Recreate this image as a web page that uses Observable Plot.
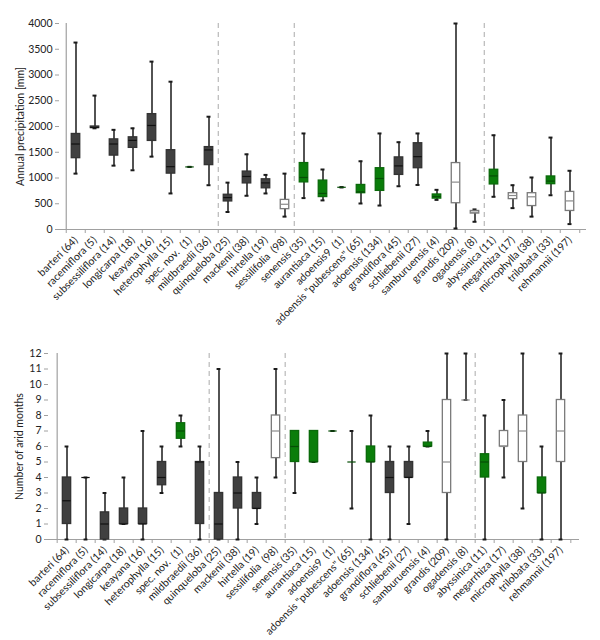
<!DOCTYPE html>
<html>
<head>
<meta charset="utf-8">
<script src="https://cdn.jsdelivr.net/npm/d3@7"></script>
<script src="https://cdn.jsdelivr.net/npm/@observablehq/plot@0.6"></script>
<style>
  body { margin: 0; background: white; }
  #chart svg { display: block; }
</style>
</head>
<body>
<div id="chart"></div>
<script>
// ---------- data ----------
const species = ["barteri (64)", "racemiflora (5)", "subsessiliflora (14)", "longicarpa (18)", "keayana (16)",
  "heterophylla (15)", "spec. nov.  (1)", "mildbraedii (36)", "quinqueloba (25)", "mackenii (38)",
  "hirtella (19)", "sessilifolia  (98)", "senensis (35)", "aurantiaca (15)", "adoensis9  (1)",
  "adoensis \"pubescens\" (65)", "adoensis (134)", "grandiflora (45)", "schliebenii (27)", "samburuensis (4)",
  "grandis (209)", "ogadensis (8)", "abyssinica (11)", "megarrhiza (17)", "microphylla (38)",
  "trilobata (33)", "rehmannii (197)"];
const groupType = ["dark","dark","dark","dark","dark","dark","green","dark","dark","dark",
  "dark","white","green","green","green","green","green","dark","dark","green",
  "white","white","green","white","white","green","white"];
const separatorsBefore = ["quinqueloba (25)", "senensis (35)", "abyssinica (11)"];

// Annual precipitation [mm]
const precipLow = [1085,1965,1240,1150,1415,700,1215,860,340,655,700,250,610,565,820,505,465,840,865,575,20,150,635,415,250,665,105];
const precipQ1  = [1385,1970,1435,1585,1720,1085,1215,1250,545,895,800,395,915,630,820,705,750,1060,1190,600,510,310,875,590,455,880,360];
const precipMed = [1660,1980,1660,1730,2020,1220,1215,1545,620,1030,905,490,1010,700,820,730,990,1235,1415,640,920,335,1040,660,635,940,555];
const precipQ3  = [1855,2000,1750,1790,2240,1540,1215,1600,675,1125,975,575,1290,950,820,865,1190,1400,1675,680,1290,360,1160,705,705,1030,730];
const precipHigh= [3630,2600,1935,1965,3260,2870,1215,2190,910,1460,1060,1085,1865,1165,820,1325,1865,1695,1865,770,4000,390,1830,860,1010,1785,1140];

// Number of arid months
const aridLow = [0,0,0,1,0,3,6,0,0,0,1,4,3,5,7,2,0,0,1,6,0,9,0,4,2,0,0];
const aridQ1  = [1,4,0,1,1,3.5,6.5,1,0,2,2,5.25,5,5,7,5,5,3,4,6,3,9,4,6,5,3,5];
const aridMed = [2.5,4,1,1,1,4,7,5,1,3,2,7,6,5,7,5,5,4,4,6,5,9,5,6,7,3,7];
const aridQ3  = [4,4,1.75,2,2,5,7.5,5,3,4,3,8,7,7,7,5,6,5,5,6.25,9,9,5.5,7,8,4,9];
const aridHigh= [6,4,3,4,7,6,8,6,11,5,4,11,7,7,7,7,8,6,6,7,12,12,8,9,12,6,12];

const precipTicks = d3.range(0, 4001, 500);
const aridTicks = d3.range(0, 13, 1);

// ---------- styles ----------
const fillOf = {dark: "#404040", green: "#0a7d0a", white: "#ffffff"};
const strokeOf = {dark: "#333333", green: "#0a6a0a", white: "#7a7a7a"};
const medOf = {dark: "#111111", green: "#064d06", white: "#8a8a8a"};
const FONT = "Lato, 'Open Sans', sans-serif";

function panel({low, q1, med, q3, high, ticks, yMax, label, width, height, mt, mb, ml, mr, labelOffset}) {
  const rows = species.map((s, i) => ({s, t: groupType[i], low: low[i], q1: q1[i], med: med[i], q3: q3[i], high: high[i]}));
  const bw = (width - ml - mr) / species.length;
  const boxInset = (bw - 9) / 2;
  const capInset = (bw - 4.5) / 2;
  const medInset = (bw - 9) / 2;
  return Plot.plot({
    width, height,
    marginTop: mt, marginBottom: mb, marginLeft: ml, marginRight: mr,
    style: {fontFamily: FONT, fontSize: "10px", color: "#222", background: "white", overflow: "visible"},
    x: {type: "band", domain: species, padding: 0},
    y: {domain: [0, yMax]},
    marks: [
      Plot.ruleX(separatorsBefore, {x: d => d, dx: -bw / 2, stroke: "#aaaaaa", strokeDasharray: "5,4", strokeWidth: 1}),
      Plot.ruleY([0], {stroke: "#a0a0a0", strokeWidth: 1.2}),
      Plot.axisY(ticks, {ticks, tickSize: 4, tickPadding: 3, tickFormat: d => String(d), stroke: "#a0a0a0",
        label, labelAnchor: "center", labelArrow: "none", labelOffset, fontSize: 10.5, fill: "#222"}),
      Plot.ruleX([species[0]], {dx: -bw / 2, stroke: "#a0a0a0", strokeWidth: 1.2}),
      Plot.axisX(species, {tickSize: 4, tickFormat: () => "", dx: -bw / 2, stroke: "#a0a0a0", label: null}),
      Plot.axisX([species[species.length - 1]], {tickSize: 4, tickFormat: () => "", dx: bw / 2, stroke: "#a0a0a0", label: null}),
      Plot.axisX(species, {tickSize: 0, tickRotate: -45, tickPadding: 9, fontSize: 10.5, fill: "#222", label: null}),
      Plot.ruleX(rows, {x: "s", y1: "low", y2: "high", stroke: "#1a1a1a", strokeWidth: 1.5}),
      Plot.tickY(rows, {x: "s", y: "high", stroke: "#1a1a1a", strokeWidth: 2, insetLeft: capInset, insetRight: capInset}),
      Plot.tickY(rows, {x: "s", y: "low", stroke: "#1a1a1a", strokeWidth: 2, insetLeft: capInset, insetRight: capInset}),
      Plot.barY(rows, {x: "s", y1: "q1", y2: "q3", fill: d => fillOf[d.t], stroke: d => strokeOf[d.t], strokeWidth: 1.3, insetLeft: boxInset, insetRight: boxInset}),
      Plot.tickY(rows, {x: "s", y: "med", stroke: d => medOf[d.t], strokeWidth: 1.2, insetLeft: medInset, insetRight: medInset})
    ]
  });
}

const topPanel = panel({low: precipLow, q1: precipQ1, med: precipMed, q3: precipQ3, high: precipHigh,
  ticks: precipTicks, yMax: 4000, label: "Annual precipitation [mm]",
  width: 600, height: 332, mt: 23, mb: 103, ml: 59, mr: 14, labelOffset: 43});
const bottomPanel = panel({low: aridLow, q1: aridQ1, med: aridMed, q3: aridQ3, high: aridHigh,
  ticks: aridTicks, yMax: 12, label: "Number of arid months",
  width: 600, height: 308, mt: 21, mb: 101, ml: 48, mr: 21, labelOffset: 33});

const c = document.getElementById("chart");
c.appendChild(topPanel);
c.appendChild(bottomPanel);
</script>
</body>
</html>
